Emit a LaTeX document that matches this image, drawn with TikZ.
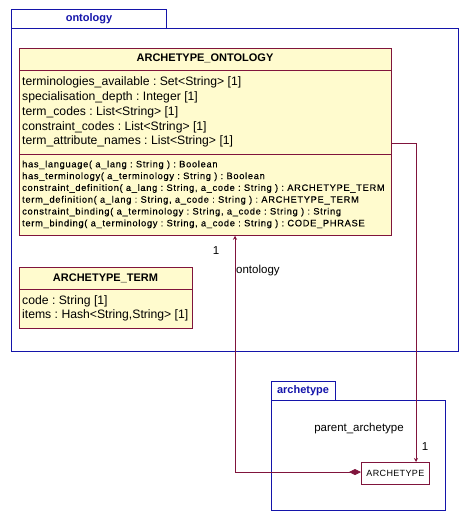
\documentclass[tikz,border=0pt]{standalone}
\usepackage{fontspec}
\setmainfont{Liberation Sans}
\usetikzlibrary{arrows.meta}
\frenchspacing
\definecolor{pkgblue}{RGB}{20,20,170}
\definecolor{clsred}{RGB}{128,20,60}
\definecolor{clsfill}{RGB}{255,251,206}
\tikzset{
  pkg/.style={draw=pkgblue, line width=0.8pt},
  pkglabel/.style={text=pkgblue, font=\fontsize{11}{13}\selectfont\bfseries},
  cls/.style={draw=clsred, fill=clsfill, line width=0.75pt, anchor=north west, inner sep=0pt},
  clsplain/.style={draw=clsred, fill=white, line width=0.75pt, anchor=north west, inner sep=0pt},
  sep/.style={draw=clsred, line width=0.75pt},
  ctitle/.style={font=\fontsize{11}{13}\selectfont\bfseries, anchor=base},
  attr/.style={font=\fontsize{12.2}{14}\selectfont, anchor=base west, inner sep=0pt},
  meth/.style={font=\fontsize{9.3}{10}\selectfont\addfontfeature{LetterSpace=7.5,FakeBold=0.3}, anchor=base west, inner sep=0pt},
  lbl/.style={font=\fontsize{11.5}{13}\selectfont, anchor=base, inner sep=0pt},
  conn/.style={draw=clsred, line width=0.75pt},
}
\begin{document}
\begin{tikzpicture}[x=1pt,y=-1pt]
\useasboundingbox (0,0) rectangle (467,521);
% ontology package
\draw[pkg] (11,9) rectangle (166,28);
\draw[pkg] (11,28) rectangle (458,351);
\node[pkglabel] (pkgont) at (89,19) {ontology};
% ARCHETYPE_ONTOLOGY
\node[cls, minimum width=372pt, minimum height=187pt] (ao) at (19,48) {};
\draw[sep] (19,70) -- (391,70);
\draw[sep] (19,154) -- (391,154);
\node[ctitle] (aot) at (205,61.5) {ARCHETYPE\_ONTOLOGY};
\node[attr] (a1) at (22,86) {terminologies\_available : Set<String> [1]};
\node[attr] (a2) at (22,100.7) {specialisation\_depth : Integer [1]};
\node[attr] (a3) at (22,115.4) {term\_codes : List<String> [1]};
\node[attr] (a4) at (22,130.1) {constraint\_codes : List<String> [1]};
\node[attr] (a5) at (22,144.8) {term\_attribute\_names : List<String> [1]};
\node[meth] (m1) at (22,167.3) {has\_language( a\_lang : String ) : Boolean};
\node[meth] (m2) at (22,179.1) {has\_terminology( a\_terminology : String ) : Boolean};
\node[meth] (m3) at (22,190.9) {constraint\_definition( a\_lang : String, a\_code : String ) : ARCHETYPE\_TERM};
\node[meth] (m4) at (22,202.7) {term\_definition( a\_lang : String, a\_code : String ) : ARCHETYPE\_TERM};
\node[meth] (m5) at (22,214.5) {constraint\_binding( a\_terminology : String, a\_code : String ) : String};
\node[meth] (m6) at (22,226.3) {term\_binding( a\_terminology : String, a\_code : String ) : CODE\_PHRASE};
% ARCHETYPE_TERM
\node[cls, minimum width=173pt, minimum height=61pt] (at) at (19,267) {};
\draw[sep] (19,289) -- (192,289);
\node[ctitle] (att) at (105.5,281) {ARCHETYPE\_TERM};
\node[attr] (t1) at (22,304) {code : String [1]};
\node[attr] (t2) at (22,318.7) {items : Hash<String,String> [1]};
% archetype package
\draw[pkg] (271,381) rectangle (335,400);
\draw[pkg] (271,400) rectangle (445,510);
\node[pkglabel] (pkgarch) at (303,391) {archetype};
% ARCHETYPE
\node[clsplain, minimum width=68pt, minimum height=22pt] (arch) at (361,462) {};
\node[font=\fontsize{9}{11}\selectfont\addfontfeature{LetterSpace=4}] (archt) at (arch.center) {ARCHETYPE};
% connectors
\coordinate (c1) at (235,472);
\coordinate (c2) at (416,143);
\draw[conn, {Diamond[length=12pt,width=6pt]}-{Stealth[length=4pt,width=4pt]}] (arch.west |- c1) -- (c1) -- (c1 |- ao.south);
\draw[conn, -{Stealth[length=4pt,width=4pt]}] (ao.east |- c2) -- (c2) -- (c2 |- arch.north);
\node[lbl] (l1) at (216,254) {1};
\node[lbl, anchor=base west] (l2) at (236,273) {ontology};
\node[lbl] (l3) at (359,431) {parent\_archetype};
\node[lbl] (l4) at (425,450) {1};
\end{tikzpicture}
\end{document}
